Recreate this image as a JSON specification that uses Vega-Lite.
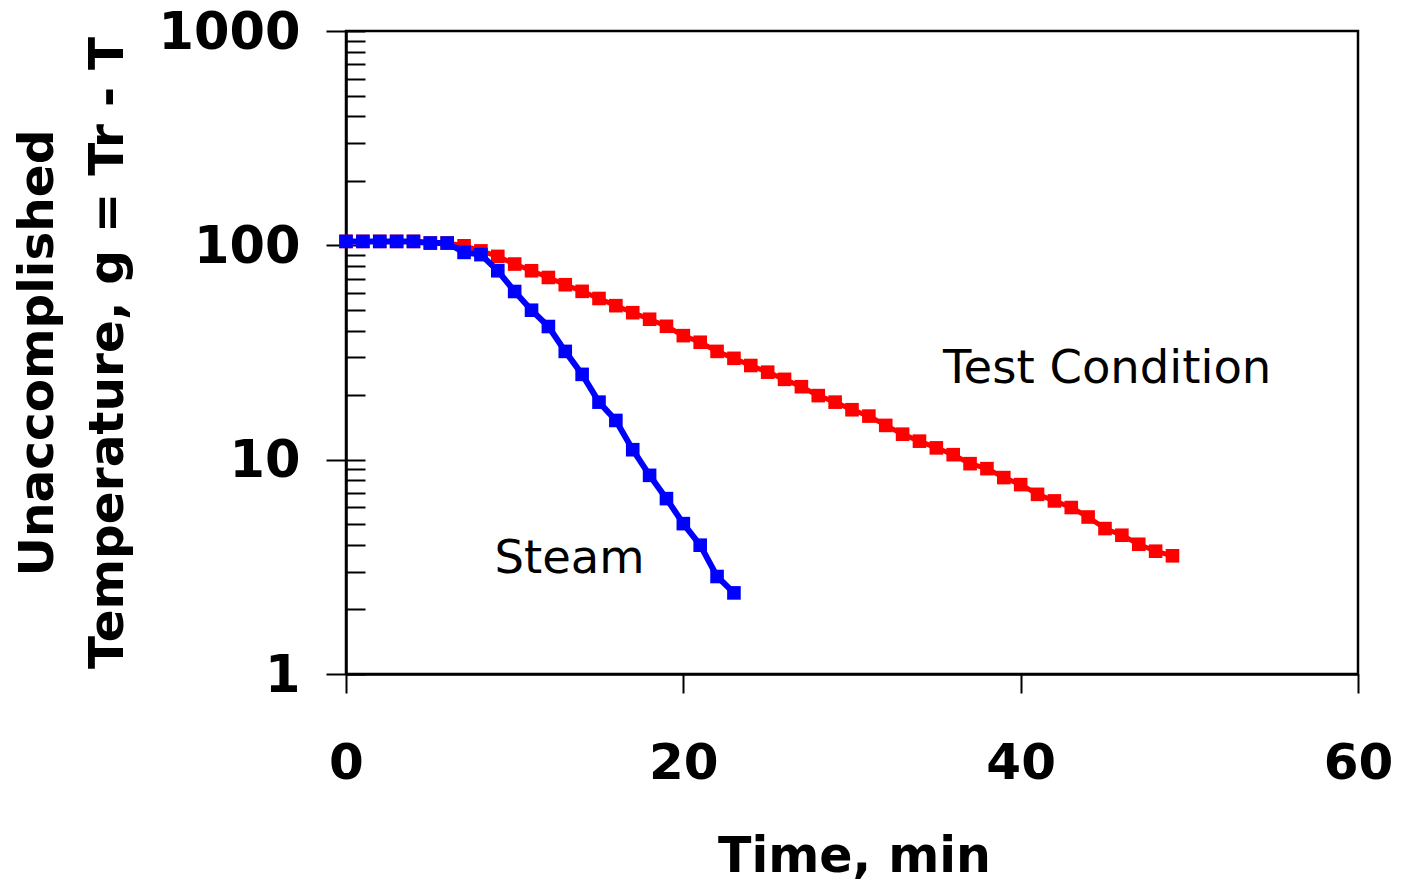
{
  "$schema": "https://vega.github.io/schema/vega-lite/v6.json",
  "width": 1012,
  "height": 643,
  "autosize": {"type": "none"},
  "padding": {"left": 346, "top": 31, "right": 48, "bottom": 209},
  "background": "white",
  "config": {"view": {"stroke": "black", "strokeWidth": 2.5}, "font": "DejaVu Sans"},
  "datasets": {
    "curves": [
      {"series": "Test Condition", "t": 0, "g": 104.3},
      {"series": "Test Condition", "t": 1, "g": 104.3},
      {"series": "Test Condition", "t": 2, "g": 104.3},
      {"series": "Test Condition", "t": 3, "g": 104.3},
      {"series": "Test Condition", "t": 4, "g": 104.3},
      {"series": "Test Condition", "t": 5, "g": 102.5},
      {"series": "Test Condition", "t": 6, "g": 102.5},
      {"series": "Test Condition", "t": 7, "g": 99.5},
      {"series": "Test Condition", "t": 8, "g": 94.2},
      {"series": "Test Condition", "t": 9, "g": 88.8},
      {"series": "Test Condition", "t": 10, "g": 81.8},
      {"series": "Test Condition", "t": 11, "g": 76.1},
      {"series": "Test Condition", "t": 12, "g": 70.8},
      {"series": "Test Condition", "t": 13, "g": 65.5},
      {"series": "Test Condition", "t": 14, "g": 61.0},
      {"series": "Test Condition", "t": 15, "g": 56.5},
      {"series": "Test Condition", "t": 16, "g": 52.3},
      {"series": "Test Condition", "t": 17, "g": 48.5},
      {"series": "Test Condition", "t": 18, "g": 45.2},
      {"series": "Test Condition", "t": 19, "g": 41.9},
      {"series": "Test Condition", "t": 20, "g": 37.9},
      {"series": "Test Condition", "t": 21, "g": 35.3},
      {"series": "Test Condition", "t": 22, "g": 32.0},
      {"series": "Test Condition", "t": 23, "g": 29.7},
      {"series": "Test Condition", "t": 24, "g": 27.5},
      {"series": "Test Condition", "t": 25, "g": 25.6},
      {"series": "Test Condition", "t": 26, "g": 23.7},
      {"series": "Test Condition", "t": 27, "g": 21.9},
      {"series": "Test Condition", "t": 28, "g": 19.9},
      {"series": "Test Condition", "t": 29, "g": 18.55},
      {"series": "Test Condition", "t": 30, "g": 17.1},
      {"series": "Test Condition", "t": 31, "g": 15.97},
      {"series": "Test Condition", "t": 32, "g": 14.45},
      {"series": "Test Condition", "t": 33, "g": 13.15},
      {"series": "Test Condition", "t": 34, "g": 12.2},
      {"series": "Test Condition", "t": 35, "g": 11.35},
      {"series": "Test Condition", "t": 36, "g": 10.55},
      {"series": "Test Condition", "t": 37, "g": 9.58},
      {"series": "Test Condition", "t": 38, "g": 9.08},
      {"series": "Test Condition", "t": 39, "g": 8.25},
      {"series": "Test Condition", "t": 40, "g": 7.65},
      {"series": "Test Condition", "t": 41, "g": 6.89},
      {"series": "Test Condition", "t": 42, "g": 6.42},
      {"series": "Test Condition", "t": 43, "g": 5.98},
      {"series": "Test Condition", "t": 44, "g": 5.40},
      {"series": "Test Condition", "t": 45, "g": 4.77},
      {"series": "Test Condition", "t": 46, "g": 4.44},
      {"series": "Test Condition", "t": 47, "g": 4.03},
      {"series": "Test Condition", "t": 48, "g": 3.74},
      {"series": "Test Condition", "t": 49, "g": 3.56},
      {"series": "Steam", "t": 0, "g": 104.3},
      {"series": "Steam", "t": 1, "g": 104.3},
      {"series": "Steam", "t": 2, "g": 104.3},
      {"series": "Steam", "t": 3, "g": 104.3},
      {"series": "Steam", "t": 4, "g": 104.3},
      {"series": "Steam", "t": 5, "g": 102.5},
      {"series": "Steam", "t": 6, "g": 102.5},
      {"series": "Steam", "t": 7, "g": 92.7},
      {"series": "Steam", "t": 8, "g": 90.5},
      {"series": "Steam", "t": 9, "g": 76.1},
      {"series": "Steam", "t": 10, "g": 60.9},
      {"series": "Steam", "t": 11, "g": 49.8},
      {"series": "Steam", "t": 12, "g": 41.8},
      {"series": "Steam", "t": 13, "g": 32.0},
      {"series": "Steam", "t": 14, "g": 25.0},
      {"series": "Steam", "t": 15, "g": 18.55},
      {"series": "Steam", "t": 16, "g": 15.24},
      {"series": "Steam", "t": 17, "g": 11.13},
      {"series": "Steam", "t": 18, "g": 8.45},
      {"series": "Steam", "t": 19, "g": 6.58},
      {"series": "Steam", "t": 20, "g": 5.03},
      {"series": "Steam", "t": 21, "g": 3.99},
      {"series": "Steam", "t": 22, "g": 2.85},
      {"series": "Steam", "t": 23, "g": 2.39}
    ],
    "labels": [
      {"t": 35.4, "g": 22.9, "label": "Test Condition"},
      {"t": 8.8, "g": 2.95, "label": "Steam"}
    ]
  },
  "data": {"name": "curves"},
  "encoding": {
    "x": {
      "field": "t",
      "type": "quantitative",
      "scale": {"domain": [0, 60], "nice": false, "zero": false},
      "axis": {
        "values": [0, 20, 40, 60],
        "format": "d",
        "grid": false,
        "tickSize": 19,
        "tickWidth": 2,
        "tickColor": "black",
        "domainColor": "black",
        "domainWidth": 2.5,
        "labelFont": "DejaVu Sans",
        "labelFontSize": 50,
        "labelFontWeight": "bold",
        "labelColor": "black",
        "labelBaseline": "alphabetic",
        "labelPadding": 85,
        "labelFlush": false,
        "labelBound": false,
        "labelOverlap": false,
        "title": "Time, min",
        "titleFont": "DejaVu Sans",
        "titleFontSize": 49,
        "titleFontWeight": "bold",
        "titleColor": "black",
        "titleX": 508,
        "titleY": 197,
        "titleAlign": "center",
        "titleBaseline": "alphabetic"
      }
    },
    "y": {
      "field": "g",
      "type": "quantitative",
      "scale": {"type": "log", "domain": [1, 1000], "nice": false},
      "axis": {
        "values": [1, 2, 3, 4, 5, 6, 7, 8, 9, 10, 20, 30, 40, 50, 60, 70, 80, 90, 100, 200, 300, 400, 500, 600, 700, 800, 900, 1000],
        "format": "d",
        "labelExpr": "(datum.value == 1 || datum.value == 10 || datum.value == 100 || datum.value == 1000) ? datum.label : ''",
        "labelFont": "DejaVu Sans",
        "labelFontSize": 51,
        "labelFontWeight": "bold",
        "labelColor": "black",
        "labelPadding": 26,
        "labelOffset": 2,
        "labelOverlap": false,
        "labelBound": false,
        "labelFlush": false,
        "tickSize": 20,
        "tickWidth": 2,
        "tickColor": {"condition": {"test": "datum.value == 1 || datum.value == 10 || datum.value == 100 || datum.value == 1000", "value": "black"}, "value": "transparent"},
        "domainColor": "black",
        "domainWidth": 2.5,
        "grid": true,
        "gridColor": "black",
        "gridWidth": 2,
        "gridOpacity": 1,
        "gridDash": [19, 3000],
        "title": ["Unaccomplished", "Temperature, g = Tr - T"],
        "titleFont": "DejaVu Sans",
        "titleFontSize": 48.5,
        "titleFontWeight": "bold",
        "titleColor": "black",
        "titleLineHeight": 70,
        "titleX": -294,
        "titleY": 321.5,
        "titleAlign": "center",
        "titleBaseline": "alphabetic",
        "titleAngle": 270
      }
    }
  },
  "layer": [
    {
      "transform": [{"filter": "datum.series == 'Test Condition'"}],
      "mark": {"type": "line", "color": "#ff0000", "strokeWidth": 5}
    },
    {
      "transform": [{"filter": "datum.series == 'Test Condition'"}],
      "mark": {"type": "point", "shape": "square", "filled": true, "color": "#ff0000", "size": 185, "opacity": 1}
    },
    {
      "transform": [{"filter": "datum.series == 'Steam'"}],
      "mark": {"type": "line", "color": "#0000ff", "strokeWidth": 6}
    },
    {
      "transform": [{"filter": "datum.series == 'Steam'"}],
      "mark": {"type": "point", "shape": "square", "filled": true, "color": "#0000ff", "size": 185, "opacity": 1}
    },
    {
      "data": {"name": "labels"},
      "mark": {"type": "text", "align": "left", "baseline": "alphabetic", "font": "DejaVu Sans", "fontSize": 46.5, "color": "black"},
      "encoding": {"text": {"field": "label", "type": "nominal"}}
    }
  ]
}
